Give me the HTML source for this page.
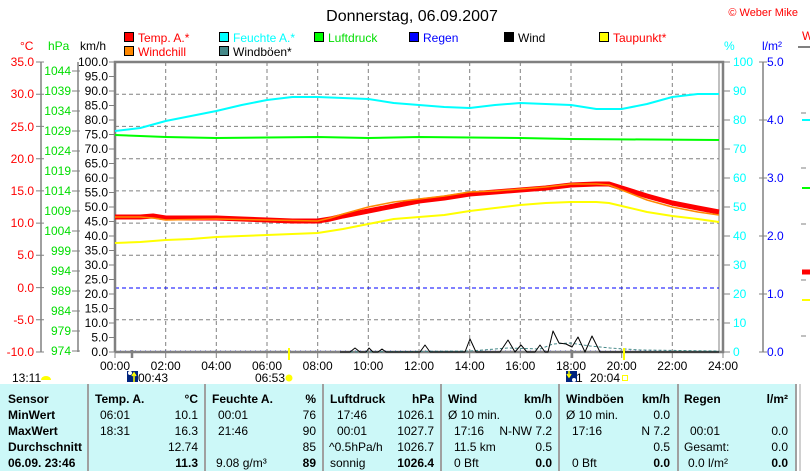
<!DOCTYPE html>
<html><head><meta charset="utf-8"><style>
body{margin:0;background:#fff;}
svg{display:block;font-family:"Liberation Sans",sans-serif;font-size:12px;}
.b{font-weight:bold;}
</style></head><body>
<svg width="810" height="471" viewBox="0 0 810 471" xmlns="http://www.w3.org/2000/svg">
<rect width="810" height="471" fill="#fff"/>
<text x="412" y="21" font-size="16" text-anchor="middle">Donnerstag, 06.09.2007</text>
<text x="798" y="16" fill="#f00" font-size="11" text-anchor="end">© Weber Mike</text>
<!-- legend -->
<g stroke="#000" stroke-width="1">
<rect x="124.5" y="32.5" width="9" height="9" fill="#f00"/>
<rect x="219.5" y="32.5" width="9" height="9" fill="#0ff"/>
<rect x="314.5" y="32.5" width="9" height="9" fill="#0f0"/>
<rect x="409.5" y="32.5" width="9" height="9" fill="#00f"/>
<rect x="504.5" y="32.5" width="9" height="9" fill="#000"/>
<rect x="599.5" y="32.5" width="9" height="9" fill="#ff0"/>
<rect x="124.5" y="46.5" width="9" height="9" fill="#f80"/>
<rect x="219.5" y="46.5" width="9" height="9" fill="#488"/>
</g>
<text x="138" y="42" fill="#f00">Temp. A.*</text>
<text x="233" y="42" fill="#0ff">Feuchte A.*</text>
<text x="328" y="42" fill="#0d0">Luftdruck</text>
<text x="423" y="42" fill="#00f">Regen</text>
<text x="518" y="42">Wind</text>
<text x="613" y="42" fill="#f00">Taupunkt*</text>
<text x="138" y="56" fill="#f00">Windchill</text>
<text x="233" y="56">Windböen*</text>
<!-- axis titles -->
<text x="20" y="50" fill="#f00">°C</text>
<text x="48" y="50" fill="#0d0">hPa</text>
<text x="80" y="50">km/h</text>
<text x="724" y="50" fill="#0ff">%</text>
<text x="762" y="50" fill="#00f">l/m²</text>
<text x="802" y="40" fill="#f00">W</text>
<!-- axes lines -->
<g stroke="#808080" stroke-width="1.5" fill="none">
<line x1="41" y1="62" x2="41" y2="352"/>
<line x1="78" y1="62" x2="78" y2="352"/>
<line x1="763" y1="62" x2="763" y2="352"/>
<line x1="719" y1="62" x2="719" y2="352" stroke-width="1"/>
</g>
<g stroke="#808080" stroke-width="1">
<path d="M36 62h8M36 94.2h8M36 126.4h8M36 158.7h8M36 190.9h8M36 223.1h8M36 255.3h8M36 287.6h8M36 319.8h8M36 352h8"/>
<path d="M72 71h8M72 91h8M72 111h8M72 131h8M72 151h8M72 171h8M72 191h8M72 211h8M72 231h8M72 251h8M72 271h8M72 291h8M72 311h8M72 331h8M72 351h8"/>
<path d="M109 62h6M109 76.5h6M109 91h6M109 105.5h6M109 120h6M109 134.5h6M109 149h6M109 163.5h6M109 178h6M109 192.5h6M109 207h6M109 221.5h6M109 236h6M109 250.5h6M109 265h6M109 279.5h6M109 294h6M109 308.5h6M109 323h6M109 337.5h6M109 352h6"/>
<path d="M723 62h7M723 91h7M723 120h7M723 149h7M723 178h7M723 207h7M723 236h7M723 265h7M723 294h7M723 323h7M723 352h7"/>
<path d="M759 62h8M759 120h8M759 178h8M759 236h8M759 294h8M759 352h8"/>
<path d="M115 352v6M165.7 352v6M216.3 352v6M267 352v6M317.7 352v6M368.3 352v6M419 352v6M469.7 352v6M520.3 352v6M571 352v6M621.7 352v6M672.3 352v6M723 352v6"/>
<path d="M801 113h5M801 168h5M801 224h5M801 280h5M801 336h5"/>
</g>
<path d="M798 47h12" stroke="#808080" stroke-width="2"/>
<!-- grid -->
<g stroke="#808080" stroke-width="1" stroke-dasharray="4,3">
<path d="M165.7 62V352M216.3 62V352M267 62V352M317.7 62V352M368.3 62V352M419 62V352M469.7 62V352M520.3 62V352M571 62V352M621.7 62V352M672.3 62V352"/>
<path d="M115 94.2H719M115 126.4H719M115 158.7H719M115 190.9H719M115 223.1H719M115 255.3H719M115 319.8H719"/>
</g>
<line x1="115" y1="288" x2="719" y2="288" stroke="#00f" stroke-dasharray="4,3"/>
<line x1="115" y1="351" x2="719" y2="351" stroke="#00f" stroke-dasharray="1,4"/>
<!-- plot border -->
<path d="M115 352V62H723V352H115" fill="none" stroke="#808080" stroke-width="2.5"/>
<!-- tick labels -->
<g fill="#f00" text-anchor="end">
<text x="34" y="66">35.0</text><text x="34" y="98">30.0</text><text x="34" y="131">25.0</text><text x="34" y="163">20.0</text><text x="34" y="195">15.0</text><text x="34" y="227">10.0</text><text x="34" y="259">5.0</text><text x="34" y="292">0.0</text><text x="34" y="324">-5.0</text><text x="34" y="356">-10.0</text>
</g>
<g fill="#0d0" text-anchor="end">
<text x="71" y="75">1044</text><text x="71" y="95">1039</text><text x="71" y="115">1034</text><text x="71" y="135">1029</text><text x="71" y="155">1024</text><text x="71" y="175">1019</text><text x="71" y="195">1014</text><text x="71" y="215">1009</text><text x="71" y="235">1004</text><text x="71" y="255">999</text><text x="71" y="275">994</text><text x="71" y="295">989</text><text x="71" y="315">984</text><text x="71" y="335">979</text><text x="71" y="355">974</text>
</g>
<g text-anchor="end">
<text x="108" y="66">100.0</text><text x="108" y="80.5">95.0</text><text x="108" y="95">90.0</text><text x="108" y="109.5">85.0</text><text x="108" y="124">80.0</text><text x="108" y="138.5">75.0</text><text x="108" y="153">70.0</text><text x="108" y="167.5">65.0</text><text x="108" y="182">60.0</text><text x="108" y="196.5">55.0</text><text x="108" y="211">50.0</text><text x="108" y="225.5">45.0</text><text x="108" y="240">40.0</text><text x="108" y="254.5">35.0</text><text x="108" y="269">30.0</text><text x="108" y="283.5">25.0</text><text x="108" y="298">20.0</text><text x="108" y="312.5">15.0</text><text x="108" y="327">10.0</text><text x="108" y="341.5">5.0</text><text x="108" y="356">0.0</text>
</g>
<g fill="#0ff">
<text x="733" y="66">100</text><text x="733" y="95">90</text><text x="733" y="124">80</text><text x="733" y="153">70</text><text x="733" y="182">60</text><text x="733" y="211">50</text><text x="733" y="240">40</text><text x="733" y="269">30</text><text x="733" y="298">20</text><text x="733" y="327">10</text><text x="733" y="356">0</text>
</g>
<g fill="#00f">
<text x="767" y="66">5.0</text><text x="767" y="124">4.0</text><text x="767" y="182">3.0</text><text x="767" y="240">2.0</text><text x="767" y="298">1.0</text><text x="767" y="356">0.0</text>
</g>
<g text-anchor="middle">
<text x="115" y="370">00:00</text><text x="165.7" y="370">02:00</text><text x="216.3" y="370">04:00</text><text x="267" y="370">06:00</text><text x="317.7" y="370">08:00</text><text x="368.3" y="370">10:00</text><text x="419" y="370">12:00</text><text x="469.7" y="370">14:00</text><text x="520.3" y="370">16:00</text><text x="571" y="370">18:00</text><text x="621.7" y="370">20:00</text><text x="672.3" y="370">22:00</text><text x="723" y="370">24:00</text>
</g>
<!-- data -->
<g fill="none" stroke-linejoin="round">
<polyline stroke="#0ff" stroke-width="2" points="115,131 140.3,128 165.7,121 191,116 216.3,111 241.7,105 267,100 292.3,97 317.7,97 343,98 368.3,99 393.7,103 419,105 444.3,107 469.7,108 495,105 520.3,103 545.7,104 571,105 596.3,109 621.7,109 647,104 672.3,97 697.7,94 719,94"/>
<polyline stroke="#0f0" stroke-width="2" points="115,135 140.3,136 165.7,137 216.3,138 317.7,137 368.3,138 419,137 520.3,138 571,139 719,140"/>
<polyline stroke="#ff0" stroke-width="2" points="115,243 140.3,242 165.7,240 191,239 216.3,237 241.7,236 267,235 292.3,234 317.7,233 343,229 368.3,224 393.7,219 419,217 444.3,215 469.7,211 495,208 520.3,205 545.7,203 571,202 596.3,202 609,203 621.7,206 647,212 672.3,216 697.7,219 719,222"/>
<polyline stroke="#f00" stroke-width="5" points="115,217 140.3,217 153,216 165.7,218 216.3,218 241.7,219 267,220 292.3,221 317.7,221 330.3,219 343,216 368.3,211 393.7,206 419,201 444.3,198 469.7,194 495,192 520.3,190 545.7,188 571,185 596.3,184 609,184 621.7,188 647,196 672.3,203 697.7,208 719,212"/>
<polyline stroke="#f80" stroke-width="1.5" points="115,217 140.3,217 153,218 165.7,220 216.3,219 267,220 317.7,221 330.3,218 343,214 368.3,207 393.7,202 419,199 444.3,196 469.7,192 495,191 520.3,189 545.7,187 571,184 596.3,184 609,185 621.7,190 647,200 672.3,207 697.7,212 719,215"/>
<polyline stroke="#488" stroke-width="1" stroke-dasharray="3,2" points="340,352 470,351 508,348 540,349 553,344 570,343 590,346 610,348 640,350 719,351"/>
<polyline stroke="#000" stroke-width="1" points="340,352 350,352 355,348 360,352 366,352 369,348 373,352 378,352 382,349 386,352 420,352 425,345 430,352 465,352 470,339 476,352 500,352 508,340 515,352 521,345 527,352 535,352 540,345 545,352 548,352 553,331 559,343 566,344 572,347 578,337 585,352 592,336 600,352 719,352"/>
</g>
<!-- bottom markers -->
<line x1="132" y1="350" x2="132" y2="358" stroke="#808080" stroke-width="2.5"/>
<line x1="572" y1="350" x2="572" y2="358" stroke="#808080" stroke-width="2.5"/>
<line x1="289" y1="348" x2="289" y2="360" stroke="#ff0" stroke-width="2"/>
<line x1="624" y1="348" x2="624" y2="360" stroke="#ff0" stroke-width="2"/>
<text x="12" y="382">13:11</text>
<path d="M41 380 a5 4 0 0 1 10 0z" fill="#ff0"/>
<rect x="127" y="371" width="11" height="11" fill="#00247d"/>
<circle cx="130" cy="373" r="2" fill="#fff"/>
<path d="M134 373 v9 M132 376 l2 -3 l2 3" stroke="#ff0" stroke-width="1.5" fill="none"/>
<text x="138" y="382">00:43</text>
<text x="255" y="382">06:53</text>
<circle cx="289" cy="378" r="3.5" fill="#ff0"/>
<rect x="566" y="371" width="11" height="11" fill="#00247d"/>
<path d="M569 371 v6 M567 374 l2 3 l2 -3" stroke="#ff0" stroke-width="1.5" fill="none"/>
<circle cx="574" cy="380" r="2" fill="#fff"/>
<text x="576" y="382">1</text>
<text x="590" y="382">20:04</text>
<rect x="622.5" y="375.5" width="5" height="5" fill="none" stroke="#ff0"/>
<!-- right partial axis -->
<path d="M802 120h8" stroke-width="2" stroke="#0ff"/>
<path d="M802 188h8" stroke-width="2" stroke="#0f0"/>
<path d="M802 272h8" stroke-width="5" stroke="#f00"/>
<path d="M802 300h8" stroke-width="2" stroke="#ff0"/>
<!-- table -->
<rect x="0" y="384" width="796" height="87" fill="#ccf8f8"/>
<g stroke="#a0a0a0" stroke-width="2">
<path d="M88 384V471M205 384V471M323 384V471M441 384V471M559 384V471M678 384V471M796 384V471"/>
</g>
<line x1="800" y1="384" x2="800" y2="471" stroke="#a0a0a0"/>
<g class="b">
<text x="8" y="403">Sensor</text><text x="8" y="419">MinWert</text><text x="8" y="435">MaxWert</text><text x="8" y="451">Durchschnitt</text><text x="8" y="467">06.09. 23:46</text>
<text x="95" y="403">Temp. A.</text><text x="198" y="403" text-anchor="end">°C</text>
<text x="212" y="403">Feuchte A.</text><text x="316" y="403" text-anchor="end">%</text>
<text x="330" y="403">Luftdruck</text><text x="434" y="403" text-anchor="end">hPa</text>
<text x="448" y="403">Wind</text><text x="552" y="403" text-anchor="end">km/h</text>
<text x="566" y="403">Windböen</text><text x="670" y="403" text-anchor="end">km/h</text>
<text x="684" y="403">Regen</text><text x="788" y="403" text-anchor="end">l/m²</text>
</g>
<text x="100" y="419">06:01</text><text x="198" y="419" text-anchor="end">10.1</text>
<text x="100" y="435">18:31</text><text x="198" y="435" text-anchor="end">16.3</text>
<text x="198" y="451" text-anchor="end">12.74</text>
<text x="198" y="467" text-anchor="end" class="b">11.3</text>
<text x="218" y="419">00:01</text><text x="316" y="419" text-anchor="end">76</text>
<text x="218" y="435">21:46</text><text x="316" y="435" text-anchor="end">90</text>
<text x="316" y="451" text-anchor="end">85</text>
<text x="216" y="467">9.08 g/m³</text><text x="316" y="467" text-anchor="end" class="b">89</text>
<text x="337" y="419">17:46</text><text x="434" y="419" text-anchor="end">1026.1</text>
<text x="337" y="435">00:01</text><text x="434" y="435" text-anchor="end">1027.7</text>
<text x="329" y="451">^0.5hPa/h</text><text x="434" y="451" text-anchor="end">1026.7</text>
<text x="330" y="467">sonnig</text><text x="434" y="467" text-anchor="end" class="b">1026.4</text>
<text x="448" y="419">Ø 10 min.</text><text x="552" y="419" text-anchor="end">0.0</text>
<text x="454" y="435">17:16</text><text x="552" y="435" text-anchor="end">N-NW 7.2</text>
<text x="454" y="451">11.5 km</text><text x="552" y="451" text-anchor="end">0.5</text>
<text x="454" y="467">0 Bft</text><text x="552" y="467" text-anchor="end" class="b">0.0</text>
<text x="566" y="419">Ø 10 min.</text><text x="670" y="419" text-anchor="end">0.0</text>
<text x="572" y="435">17:16</text><text x="670" y="435" text-anchor="end">N 7.2</text>
<text x="670" y="451" text-anchor="end">0.5</text>
<text x="572" y="467">0 Bft</text><text x="670" y="467" text-anchor="end" class="b">0.0</text>
<text x="690" y="435">00:01</text><text x="788" y="435" text-anchor="end">0.0</text>
<text x="684" y="451">Gesamt:</text><text x="788" y="451" text-anchor="end">0.0</text>
<text x="688" y="467">0.0 l/m²</text><text x="788" y="467" text-anchor="end" class="b">0.0</text>
</svg>
</body></html>
